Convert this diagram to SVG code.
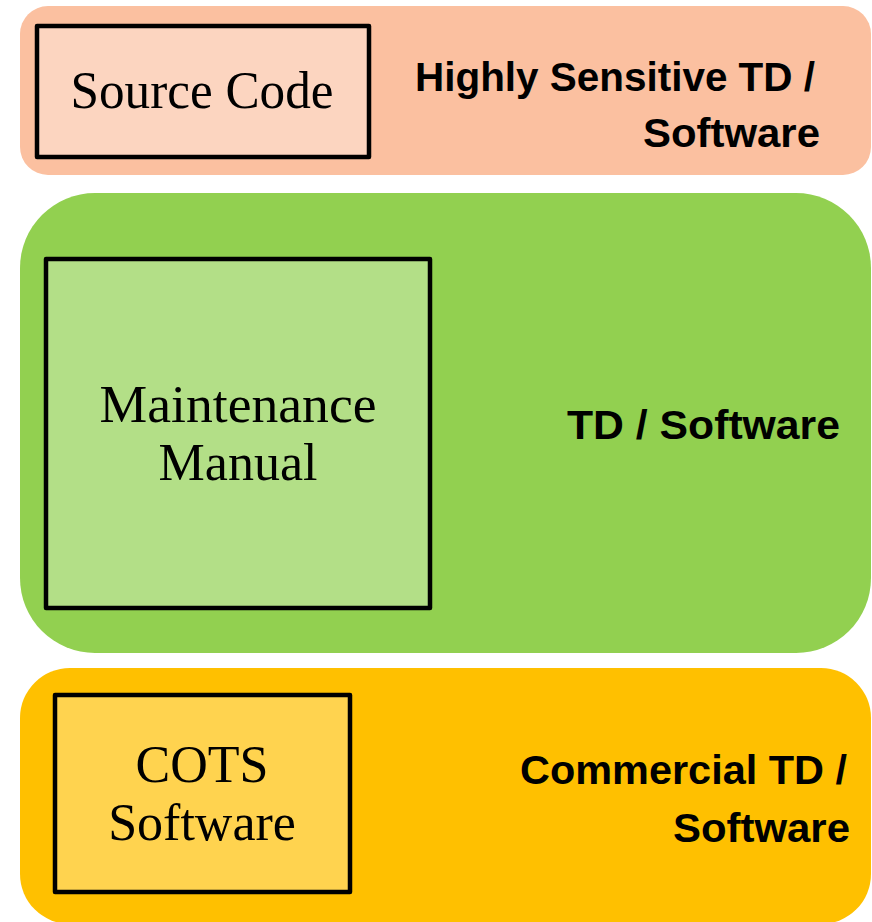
<svg xmlns="http://www.w3.org/2000/svg" width="872" height="922" viewBox="0 0 872 922">
<style>
.box{stroke:#000;stroke-width:4.5;stroke-linejoin:round}
.serif{font-family:"Liberation Serif","Times New Roman",serif;font-size:52px;fill:#000;text-anchor:middle}
.sans{font-family:"Liberation Sans",Arial,sans-serif;font-weight:bold;font-size:41px;fill:#000;text-anchor:end}
</style>
<rect width="872" height="922" fill="#fff"/>
<g id="band-high">
<rect x="20" y="6" width="851" height="169" rx="28" fill="#FBC0A0"/>
<text class="sans" x="815" y="91" textLength="400" lengthAdjust="spacingAndGlyphs">Highly Sensitive TD /</text>
<text class="sans" x="820" y="147" textLength="177" lengthAdjust="spacingAndGlyphs">Software</text>
</g>
<g id="node-source">
<rect class="box" x="37" y="26" width="332" height="131" fill="#FCD5C0"/>
<text class="serif" x="202" y="108" textLength="263" lengthAdjust="spacingAndGlyphs">Source Code</text>
</g>
<g id="band-td">
<rect x="20" y="193" width="851" height="460" rx="75" fill="#92D050"/>
<text class="sans" x="840" y="439" textLength="273" lengthAdjust="spacingAndGlyphs">TD / Software</text>
</g>
<g id="node-maintenance">
<rect class="box" x="46" y="259" width="384" height="349" fill="#B3DF87"/>
<text class="serif" x="238" y="422" textLength="277" lengthAdjust="spacingAndGlyphs">Maintenance</text>
<text class="serif" x="238" y="480">Manual</text>
</g>
<g id="band-commercial">
<rect x="20" y="668" width="851" height="256" rx="50" fill="#FFC000"/>
<text class="sans" x="847" y="784" textLength="327" lengthAdjust="spacingAndGlyphs">Commercial TD /</text>
<text class="sans" x="850" y="842" textLength="177" lengthAdjust="spacingAndGlyphs">Software</text>
</g>
<g id="node-cots">
<rect class="box" x="55" y="695" width="295" height="197" fill="#FFD34F"/>
<text class="serif" x="202" y="782">COTS</text>
<text class="serif" x="202" y="840">Software</text>
</g>
<g id="connectors"/>
</svg>
